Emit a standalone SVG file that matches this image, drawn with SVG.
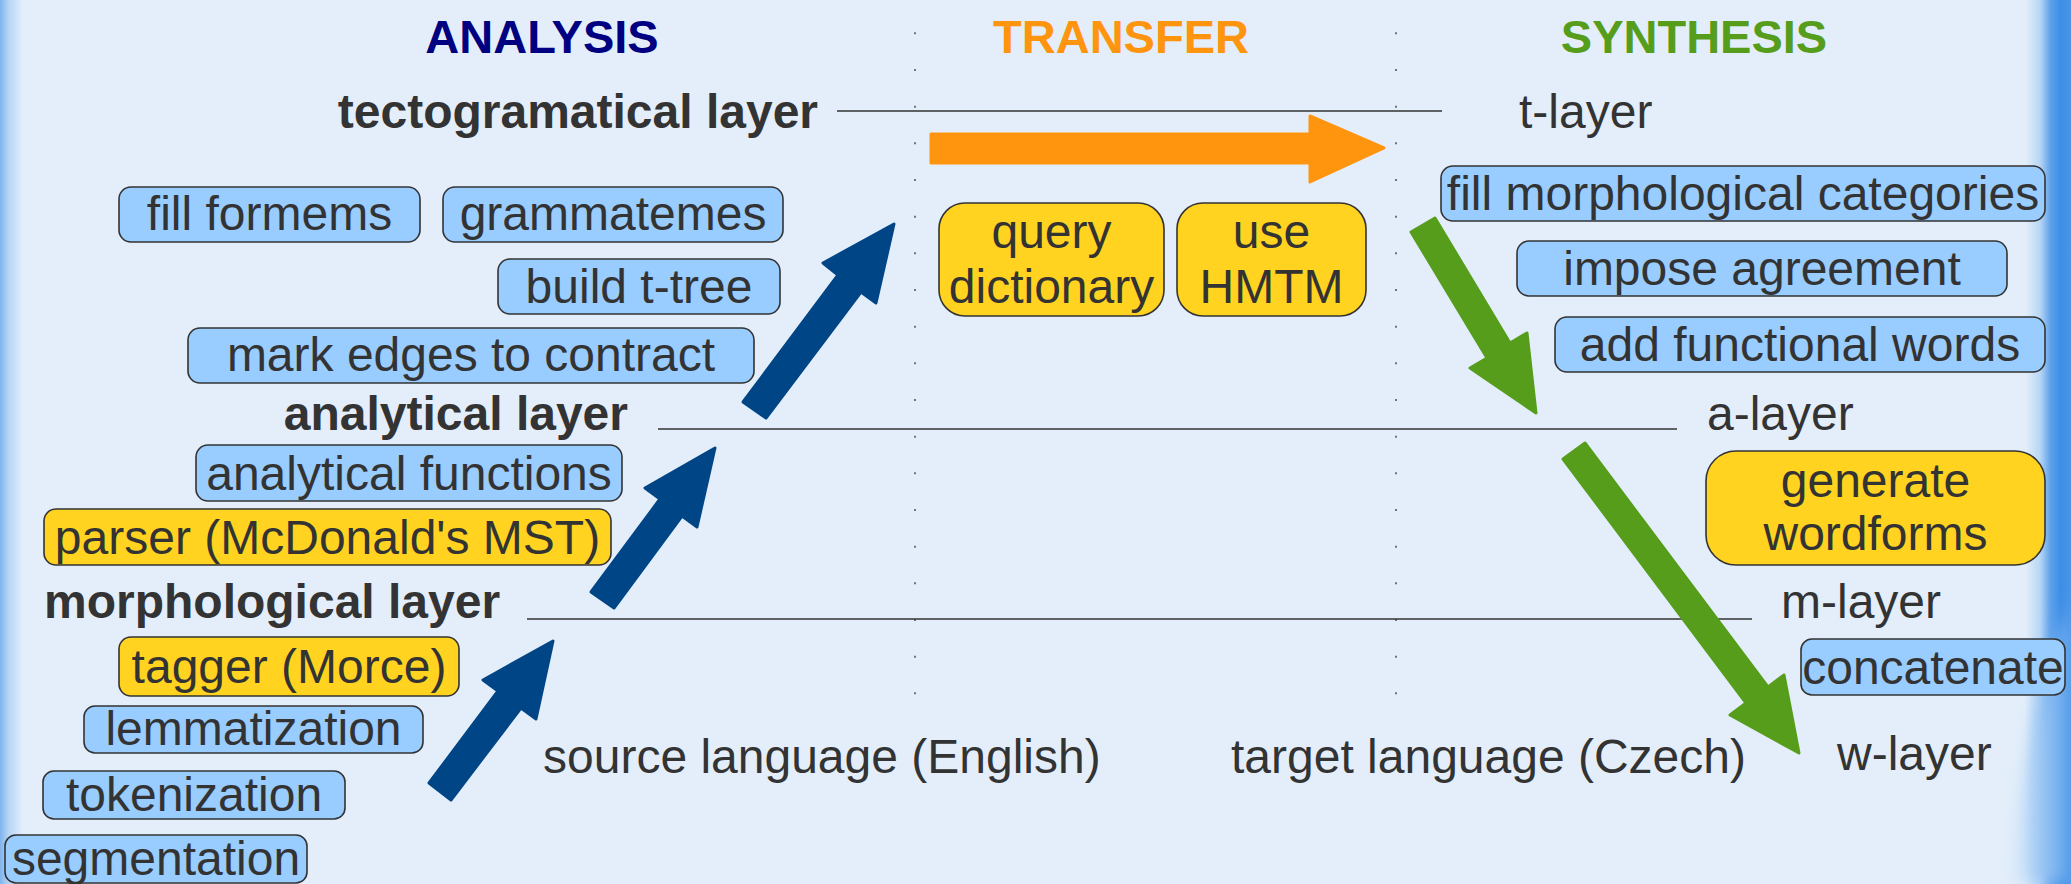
<svg xmlns="http://www.w3.org/2000/svg" width="2071" height="884" viewBox="0 0 2071 884">
<defs>
<linearGradient id="bg" x1="0" y1="0" x2="1" y2="0">
<stop offset="0" stop-color="#7fb3ec"/>
<stop offset="0.004" stop-color="#b5d4f5"/>
<stop offset="0.011" stop-color="#e3eefa"/>
<stop offset="0.978" stop-color="#e3eefa"/>
<stop offset="0.985" stop-color="#b8d7f6"/>
<stop offset="0.99" stop-color="#5fa2ea"/>
<stop offset="0.995" stop-color="#3d8ee6"/>
<stop offset="1" stop-color="#4a95e8"/>
</linearGradient>
<linearGradient id="br" x1="0" y1="0" x2="1" y2="0">
<stop offset="0" stop-color="#e3eefa" stop-opacity="0"/>
<stop offset="0.45" stop-color="#a9cff5"/>
<stop offset="1" stop-color="#5aa0ec"/>
</linearGradient>
<filter id="soft" x="-0.5" y="-0.5" width="2" height="2"><feGaussianBlur stdDeviation="8"/></filter>
<style>
text{font-family:"Liberation Sans",Arial,Helvetica,sans-serif;fill:#333333;font-size:48px}
.hdr{font-weight:bold;font-size:47px;text-anchor:middle}
.bold{font-weight:bold}
.c{text-anchor:middle}
.blue{fill:#99ccff;stroke:#333333;stroke-width:1.6}
.yel{fill:#ffd320;stroke:#333333;stroke-width:1.6}
.layer{stroke:#333333;stroke-width:1.6;fill:none}
.dots{stroke:#555555;stroke-width:1.6;stroke-dasharray:2 34.67;fill:none}
.ab{fill:#004586;stroke:#004586;stroke-width:3;stroke-linejoin:round}
.ag{fill:#579d1c;stroke:#579d1c;stroke-width:3;stroke-linejoin:round}
.ao{fill:#ff950e;stroke:#ff950e;stroke-width:3;stroke-linejoin:round}
</style>
</defs>
<rect x="0" y="0" width="2071" height="884" fill="url(#bg)"/>
<polygon points="2071,600 2045,660 2005,884 2071,884" fill="url(#br)" filter="url(#soft)"/>

<g id="headers">
<text class="hdr" x="542" y="53" style="fill:#000080">ANALYSIS</text>
<text class="hdr" x="1121" y="53" style="fill:#ff950e">TRANSFER</text>
<text class="hdr" x="1694" y="53" style="fill:#579d1c">SYNTHESIS</text>
</g>

<g id="layers">
<line class="dots" x1="915" y1="32.3" x2="915" y2="695"/>
<line class="dots" x1="1396" y1="32.3" x2="1396" y2="695"/>
<line class="layer" x1="837" y1="111" x2="1442" y2="111"/>
<line class="layer" x1="658" y1="429" x2="1677" y2="429"/>
<line class="layer" x1="527" y1="619" x2="1752" y2="619"/>
<text class="bold" x="818" y="128" text-anchor="end">tectogramatical layer</text>
<text x="1519" y="128">t-layer</text>
<text class="bold" x="628" y="430" text-anchor="end">analytical layer</text>
<text x="1707" y="430">a-layer</text>
<text class="bold" x="44" y="618">morphological layer</text>
<text x="1781" y="618">m-layer</text>
<text x="543" y="773">source language (English)</text>
<text x="1231" y="773">target language (Czech)</text>
<text x="1837" y="770">w-layer</text>
</g>

<g id="connectors">
<polygon class="ab" points="743,402 838,275 823,263 894,224 876,303 861,292 766,418"/>
<polygon class="ab" points="591,592 660,499 645,488 715,448 697,527 682,516 614,608"/>
<polygon class="ab" points="429,783 498,691 483,680 553,641 536,719 521,708 451,800"/>
<polygon class="ao" points="931,134 1310,134 1310,116 1384,148 1310,182 1310,163 931,163"/>
<polygon class="ag" points="1411,232 1487,358 1470,368 1536,413 1527,333 1510,343 1435,218"/>
<polygon class="ag" points="1563,459 1746,703 1730,715 1799,753 1784,675 1768,687 1585,443"/>
</g>

<g id="n-fill-formems"><rect class="blue" x="119" y="187" width="301" height="55" rx="12"/><text class="c" x="269.5" y="230">fill formems</text></g>
<g id="n-grammatemes"><rect class="blue" x="443" y="187" width="340" height="55" rx="12"/><text class="c" x="613" y="230">grammatemes</text></g>
<g id="n-build-t-tree"><rect class="blue" x="498" y="259" width="282" height="55" rx="12"/><text class="c" x="639" y="303">build t-tree</text></g>
<g id="n-mark-edges"><rect class="blue" x="188" y="328" width="566" height="55" rx="12"/><text class="c" x="471" y="371">mark edges to contract</text></g>
<g id="n-analytical-functions"><rect class="blue" x="196" y="445" width="426" height="56" rx="12"/><text class="c" x="409" y="490">analytical functions</text></g>
<g id="n-parser"><rect class="yel" x="44" y="509" width="567" height="56" rx="12"/><text class="c" x="327.5" y="554">parser (McDonald's MST)</text></g>
<g id="n-tagger"><rect class="yel" x="119" y="637" width="340" height="59" rx="12"/><text class="c" x="289" y="683">tagger (Morce)</text></g>
<g id="n-lemmatization"><rect class="blue" x="84" y="706" width="339" height="47" rx="11"/><text class="c" x="253.5" y="745">lemmatization</text></g>
<g id="n-tokenization"><rect class="blue" x="43" y="771" width="302" height="48" rx="11"/><text class="c" x="194" y="811">tokenization</text></g>
<g id="n-segmentation"><rect class="blue" x="5" y="835" width="302" height="48" rx="11"/><text class="c" x="156" y="875">segmentation</text></g>

<g id="n-query-dictionary"><rect class="yel" x="939" y="203" width="225" height="113" rx="26"/><text class="c" x="1051.5" y="248">query</text><text class="c" x="1051.5" y="303">dictionary</text></g>
<g id="n-use-hmtm"><rect class="yel" x="1177" y="203" width="189" height="113" rx="26"/><text class="c" x="1271.5" y="248">use</text><text class="c" x="1271.5" y="303">HMTM</text></g>

<g id="n-fill-morph"><rect class="blue" x="1441" y="166" width="604" height="55" rx="12"/><text class="c" x="1743" y="210">fill morphological categories</text></g>
<g id="n-impose-agreement"><rect class="blue" x="1517" y="241" width="490" height="55" rx="12"/><text class="c" x="1762" y="285">impose agreement</text></g>
<g id="n-add-functional"><rect class="blue" x="1555" y="317" width="490" height="55" rx="12"/><text class="c" x="1800" y="361">add functional words</text></g>
<g id="n-generate-wordforms"><rect class="yel" x="1706" y="451" width="339" height="114" rx="30"/><text class="c" x="1875.5" y="497">generate</text><text class="c" x="1875.5" y="550">wordforms</text></g>
<g id="n-concatenate"><rect class="blue" x="1801" y="639" width="264" height="56" rx="11"/><text class="c" x="1933" y="684">concatenate</text></g>
</svg>
